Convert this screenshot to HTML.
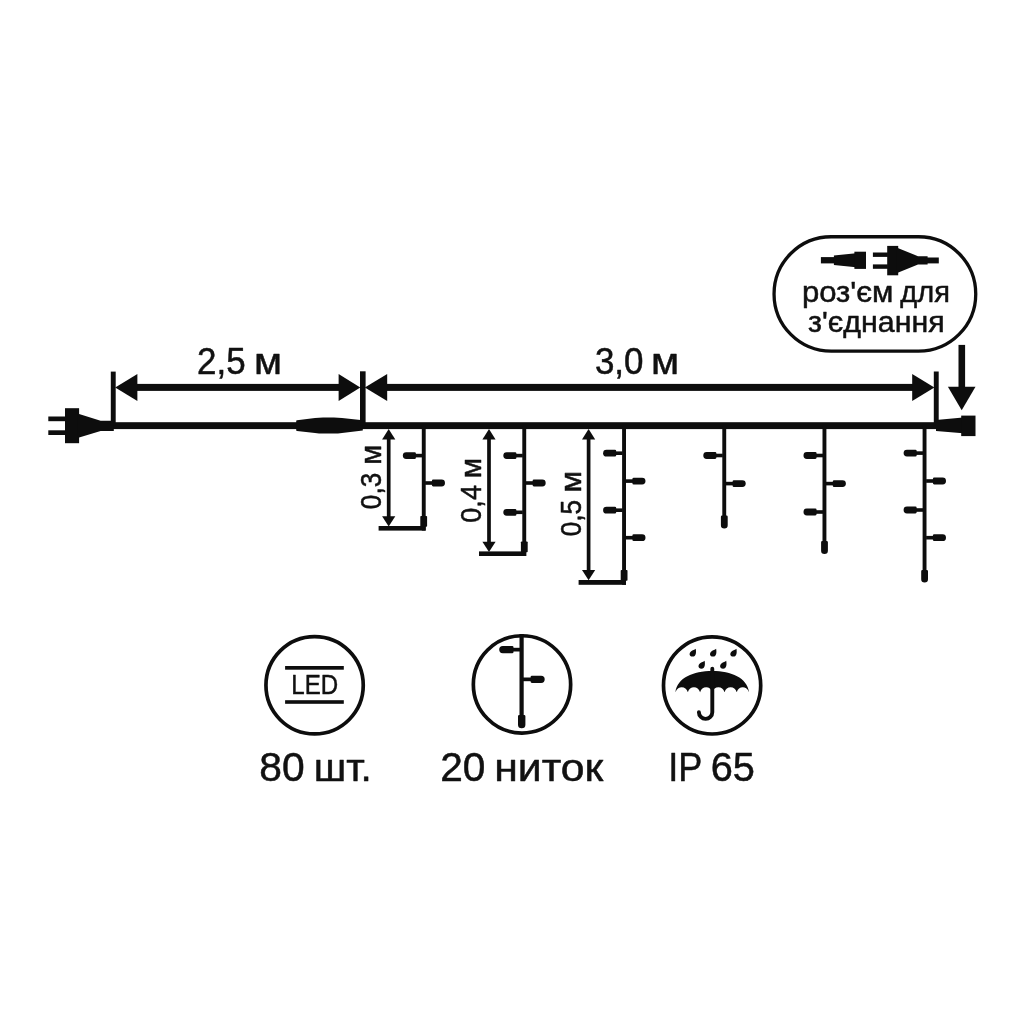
<!DOCTYPE html>
<html lang="uk">
<head>
<meta charset="utf-8">
<title>Схема гірлянди</title>
<style>
html,body{margin:0;padding:0;background:#fff;}
body{width:1024px;height:1024px;overflow:hidden;}
svg{display:block;}
text{font-family:"Liberation Sans",sans-serif;fill:#111;stroke:#111;stroke-width:0.5px;stroke-linejoin:round;}
svg{will-change:transform;}
</style>
</head>
<body>
<svg width="1024" height="1024" viewBox="0 0 1024 1024">
<rect width="1024" height="1024" fill="#ffffff"/>
<g fill="#0d0d0d">
<!-- main cable -->
<rect x="100" y="422.2" width="840" height="6.9"/>
<!-- plug left -->
<rect x="48.3" y="416.5" width="18" height="4.7"/>
<rect x="48.3" y="430.3" width="18" height="4.7"/>
<rect x="65" y="408.2" width="14.1" height="35"/>
<polygon points="77.5,413.4 100.6,420.7 113.8,420.7 113.8,431 100.6,431 77.5,437.9"/>
<!-- transformer bulge -->
<path d="M296.2 420.9 Q296.2 420.3 297 420.2 L315 417.9 Q319 417.4 323 417.4 L334 417.4 Q338 417.4 342 417.9 L362.8 420.3 L362.8 430.5 L342 433.1 Q338 433.6 334 433.6 L323 433.6 Q319 433.6 315 433.1 L297 430.9 Q296.2 430.8 296.2 430.2 Z"/>
<!-- ticks -->
<rect x="110.8" y="371.6" width="4.9" height="54"/>
<rect x="360" y="371.3" width="5.6" height="54"/>
<rect x="933.8" y="371.5" width="4.9" height="54"/>
<!-- dimension arrows -->
<rect x="130" y="383.9" width="215" height="7"/>
<polygon points="115.2,387.4 137.4,373.9 137.4,400.9"/>
<polygon points="360.3,387.4 338.6,373.9 338.6,400.9"/>
<rect x="380" y="383.9" width="540" height="7"/>
<polygon points="364.8,387.4 387.2,373.9 387.2,400.9"/>
<polygon points="934.4,387.4 912.2,373.9 912.2,400.9"/>
<!-- end connector -->
<polygon points="936,420 963,417.6 963,433.2 936,431"/>
<rect x="961.2" y="415.6" width="14.3" height="20.5"/>
<!-- down arrow -->
<rect x="958.5" y="344.9" width="6.6" height="44"/>
<polygon points="947.9,386.7 975.5,386.7 961.7,410.2"/>
<rect x="421.8" y="426" width="3.9" height="104.6"/><rect x="412.8" y="453.8" width="9.5" height="3.6"/><path d="M414.6 452.2 h-8.4 a3.4 3.4 0 0 0 0 6.8 h8.4 a1.3 1.3 0 0 0 1.3 -1.3 v-4.2 a1.3 1.3 0 0 0 -1.3 -1.3z"/><rect x="425.1" y="481.2" width="9.5" height="3.6"/><path d="M433.2 479.6 h8.4 a3.4 3.4 0 0 1 0 6.8 h-8.4 a1.3 1.3 0 0 1 -1.3 -1.3 v-4.2 a1.3 1.3 0 0 1 1.3 -1.3z"/>
<rect x="420.3" y="516" width="6.8" height="10.8" rx="0.8"/>
<rect x="378.6" y="526" width="47" height="4.6"/>
<rect x="522.3" y="426" width="3.9" height="130.0"/><rect x="513.3" y="453.8" width="9.5" height="3.6"/><path d="M515.1 452.2 h-8.4 a3.4 3.4 0 0 0 0 6.8 h8.4 a1.3 1.3 0 0 0 1.3 -1.3 v-4.2 a1.3 1.3 0 0 0 -1.3 -1.3z"/><rect x="525.8" y="481.2" width="9.5" height="3.6"/><path d="M533.9 479.6 h8.4 a3.4 3.4 0 0 1 0 6.8 h-8.4 a1.3 1.3 0 0 1 -1.3 -1.3 v-4.2 a1.3 1.3 0 0 1 1.3 -1.3z"/><rect x="513.3" y="510.5" width="9.5" height="3.6"/><path d="M515.1 508.9 h-8.4 a3.4 3.4 0 0 0 0 6.8 h8.4 a1.3 1.3 0 0 0 1.3 -1.3 v-4.2 a1.3 1.3 0 0 0 -1.3 -1.3z"/>
<rect x="520.9" y="541.4" width="6.8" height="10.8" rx="0.8"/>
<rect x="479" y="551.4" width="47.2" height="4.6"/>
<rect x="622.1" y="426" width="3.9" height="158.8"/><rect x="613.1" y="451.4" width="9.5" height="3.6"/><path d="M614.9 449.8 h-8.4 a3.4 3.4 0 0 0 0 6.8 h8.4 a1.3 1.3 0 0 0 1.3 -1.3 v-4.2 a1.3 1.3 0 0 0 -1.3 -1.3z"/><rect x="625.6" y="479.3" width="9.5" height="3.6"/><path d="M633.7 477.7 h8.4 a3.4 3.4 0 0 1 0 6.8 h-8.4 a1.3 1.3 0 0 1 -1.3 -1.3 v-4.2 a1.3 1.3 0 0 1 1.3 -1.3z"/><rect x="613.1" y="508.4" width="9.5" height="3.6"/><path d="M614.9 506.8 h-8.4 a3.4 3.4 0 0 0 0 6.8 h8.4 a1.3 1.3 0 0 0 1.3 -1.3 v-4.2 a1.3 1.3 0 0 0 -1.3 -1.3z"/><rect x="625.6" y="535.9" width="9.5" height="3.6"/><path d="M633.7 534.3 h8.4 a3.4 3.4 0 0 1 0 6.8 h-8.4 a1.3 1.3 0 0 1 -1.3 -1.3 v-4.2 a1.3 1.3 0 0 1 1.3 -1.3z"/>
<rect x="620.7" y="570" width="6.8" height="10.8" rx="0.8"/>
<rect x="578.6" y="580" width="47.4" height="4.8"/>
<rect x="722.3" y="426" width="3.9" height="92.0"/><rect x="713.3" y="453.7" width="9.5" height="3.6"/><path d="M715.1 452.1 h-8.4 a3.4 3.4 0 0 0 0 6.8 h8.4 a1.3 1.3 0 0 0 1.3 -1.3 v-4.2 a1.3 1.3 0 0 0 -1.3 -1.3z"/><rect x="725.8" y="481.8" width="9.5" height="3.6"/><path d="M733.9 480.2 h8.4 a3.4 3.4 0 0 1 0 6.8 h-8.4 a1.3 1.3 0 0 1 -1.3 -1.3 v-4.2 a1.3 1.3 0 0 1 1.3 -1.3z"/>
<path d="M722.1 515.5 h4.4 a1.2 1.2 0 0 1 1.2 1.2 v8.5 a3.4 3.3 0 0 1 -6.8 0 v-8.5 a1.2 1.2 0 0 1 1.2 -1.2z"/>
<rect x="822.5" y="426" width="3.9" height="117.0"/><rect x="813.5" y="453.7" width="9.5" height="3.6"/><path d="M815.3 452.1 h-8.4 a3.4 3.4 0 0 0 0 6.8 h8.4 a1.3 1.3 0 0 0 1.3 -1.3 v-4.2 a1.3 1.3 0 0 0 -1.3 -1.3z"/><rect x="826.0" y="481.8" width="9.5" height="3.6"/><path d="M834.1 480.2 h8.4 a3.4 3.4 0 0 1 0 6.8 h-8.4 a1.3 1.3 0 0 1 -1.3 -1.3 v-4.2 a1.3 1.3 0 0 1 1.3 -1.3z"/><rect x="813.5" y="510.2" width="9.5" height="3.6"/><path d="M815.3 508.6 h-8.4 a3.4 3.4 0 0 0 0 6.8 h8.4 a1.3 1.3 0 0 0 1.3 -1.3 v-4.2 a1.3 1.3 0 0 0 -1.3 -1.3z"/>
<path d="M822.3 541 h4.4 a1.2 1.2 0 0 1 1.2 1.2 v8.5 a3.4 3.3 0 0 1 -6.8 0 v-8.5 a1.2 1.2 0 0 1 1.2 -1.2z"/>
<rect x="922.6" y="426" width="3.9" height="146.0"/><rect x="913.6" y="451.3" width="9.5" height="3.6"/><path d="M915.4 449.7 h-8.4 a3.4 3.4 0 0 0 0 6.8 h8.4 a1.3 1.3 0 0 0 1.3 -1.3 v-4.2 a1.3 1.3 0 0 0 -1.3 -1.3z"/><rect x="926.1" y="479.2" width="9.5" height="3.6"/><path d="M934.2 477.6 h8.4 a3.4 3.4 0 0 1 0 6.8 h-8.4 a1.3 1.3 0 0 1 -1.3 -1.3 v-4.2 a1.3 1.3 0 0 1 1.3 -1.3z"/><rect x="913.6" y="508.2" width="9.5" height="3.6"/><path d="M915.4 506.6 h-8.4 a3.4 3.4 0 0 0 0 6.8 h8.4 a1.3 1.3 0 0 0 1.3 -1.3 v-4.2 a1.3 1.3 0 0 0 -1.3 -1.3z"/><rect x="926.1" y="535.9" width="9.5" height="3.6"/><path d="M934.2 534.3 h8.4 a3.4 3.4 0 0 1 0 6.8 h-8.4 a1.3 1.3 0 0 1 -1.3 -1.3 v-4.2 a1.3 1.3 0 0 1 1.3 -1.3z"/>
<path d="M922.4 570 h4.4 a1.2 1.2 0 0 1 1.2 1.2 v8 a3.4 3.3 0 0 1 -6.8 0 v-8 a1.2 1.2 0 0 1 1.2 -1.2z"/>
<rect x="386.85" y="437" width="3.7" height="81.5"/><polygon points="388.7,429 382.09999999999997,439.4 395.3,439.4"/><polygon points="388.7,526.5 382.09999999999997,516.3 395.3,516.3"/>
<rect x="487.15" y="437" width="3.7" height="107"/><polygon points="489.0,429 482.4,439.4 495.6,439.4"/><polygon points="489.0,552 482.4,541.8 495.6,541.8"/>
<rect x="586.75" y="437" width="3.7" height="135.29999999999995"/><polygon points="588.6,429 582.0,439.4 595.2,439.4"/><polygon points="588.6,580.3 582.0,570.0999999999999 595.2,570.0999999999999"/>
</g>
<!-- labels -->
<text y="374.3"><tspan x="197.10" font-size="37.3" textLength="48.62" lengthAdjust="spacingAndGlyphs">2,5</tspan> <tspan x="254.14" font-size="37.3" textLength="28.00" lengthAdjust="spacingAndGlyphs">м</tspan></text>
<text y="374.3"><tspan x="594.92" font-size="37.3" textLength="48.60" lengthAdjust="spacingAndGlyphs">3,0</tspan> <tspan x="651.03" font-size="37.3" textLength="28.12" lengthAdjust="spacingAndGlyphs">м</tspan></text>
<text transform="translate(380.7,0) rotate(-90)" stroke-width="0.15"><tspan x="-509.14" font-size="29.2" textLength="36.32" lengthAdjust="spacingAndGlyphs">0,3</tspan> <tspan x="-464.73" font-size="29.2" textLength="19.94" lengthAdjust="spacingAndGlyphs">м</tspan></text>
<text transform="translate(481.4,0) rotate(-90)" stroke-width="0.15"><tspan x="-522.68" font-size="29.2" textLength="37.59" lengthAdjust="spacingAndGlyphs">0,4</tspan> <tspan x="-478.36" font-size="29.2" textLength="20.31" lengthAdjust="spacingAndGlyphs">м</tspan></text>
<text transform="translate(580.9,0) rotate(-90)" stroke-width="0.15"><tspan x="-536.25" font-size="29.2" textLength="36.37" lengthAdjust="spacingAndGlyphs">0,5</tspan> <tspan x="-492.81" font-size="29.2" textLength="21.81" lengthAdjust="spacingAndGlyphs">м</tspan></text>
<!-- pill -->
<rect x="774.05" y="236.75" width="201.7" height="114.4" rx="57.2" ry="57.2" fill="none" stroke="#0d0d0d" stroke-width="3.3"/>
<g fill="#0d0d0d">
<rect x="820.9" y="257.1" width="14" height="6.3"/>
<polygon points="833.9,255.5 856,253.2 856,267.3 833.9,264.9"/>
<rect x="854.4" y="251.7" width="11.6" height="17.2"/>
<rect x="872.9" y="252.5" width="15" height="4.4"/>
<rect x="872.9" y="264.4" width="15" height="4.4"/>
<rect x="887.2" y="245.9" width="11" height="29.4"/>
<polygon points="896.5,247.4 918,256.2 927.6,256.2 927.6,264.5 918,264.5 896.5,273.3"/>
<rect x="927" y="257.5" width="11.8" height="5.9"/>
</g>
<text y="301.7"><tspan x="801.93" font-size="29.4" textLength="91.54" lengthAdjust="spacingAndGlyphs">роз'єм</tspan> <tspan x="900.36" font-size="29.4" textLength="49.61" lengthAdjust="spacingAndGlyphs">для</tspan></text>
<text y="331.8"><tspan x="808.12" font-size="29.4" textLength="136.64" lengthAdjust="spacingAndGlyphs">з'єднання</tspan></text>
<!-- icons -->
<g fill="none" stroke="#0d0d0d" stroke-width="3.7">
<circle cx="314.6" cy="685.3" r="48.65"/>
<circle cx="522" cy="684.4" r="48.65"/>
<circle cx="712.1" cy="685.4" r="48.6"/>
</g>
<g fill="#0d0d0d">
<rect x="285.1" y="666.0" width="58.7" height="3.7"/>
<rect x="285.1" y="700.2" width="58.7" height="3.6"/>
</g>
<text y="694.4" stroke-width="0"><tspan x="291.27" font-size="28.2" textLength="46.89" lengthAdjust="spacingAndGlyphs">LED</tspan></text>
<g fill="#0d0d0d">
<rect x="519.5" y="634" width="4.2" height="84"/>
<path d="M519.2 715 h4.9 a1.3 1.3 0 0 1 1.3 1.3 v8.4 a3.7 3.5 0 0 1 -7.4 0 v-8.4 a1.3 1.3 0 0 1 1.2 -1.3z"/>
<rect x="510" y="647.8" width="10" height="3.7"/>
<path d="M512.2 646 h-9.4 a3.6 3.6 0 0 0 0 7.2 h9.4 a1.3 1.3 0 0 0 1.3 -1.3 v-4.6 a1.3 1.3 0 0 0 -1.3 -1.3z"/>
<rect x="523" y="677.5" width="10" height="3.7"/>
<path d="M531.9 675.7 h9.2 a3.6 3.6 0 0 1 0 7.2 h-9.2 a1.3 1.3 0 0 1 -1.3 -1.3 v-4.6 a1.3 1.3 0 0 1 1.3 -1.3z"/>
</g>
<!-- umbrella -->
<g fill="#0d0d0d">
<path d="M675.4 692.2 C677.6 677.8 693 671.1 712.3 671.1 C731.5 671.1 746.9 677.8 749.1 692.2 C747.5 688.6 745 687.3 742.9 687.3 C740 687.3 737.6 689.2 736.8 692.2 C735.6 689 733.5 687.3 730.7 687.3 C727.8 687.3 725.4 689.2 724.6 692.2 C723.4 689 721.3 687.3 718.4 687.3 C715.6 687.3 713.2 689.2 712.3 692.2 C711.2 689 709 687.3 706.2 687.3 C703.3 687.3 701 689.2 700.1 692.2 C698.9 689 696.8 687.3 694 687.3 C691.1 687.3 688.7 689.2 687.9 692.2 C686.7 689 684.6 687.3 681.7 687.3 C679.4 687.3 677 688.6 675.4 692.2 Z"/>
</g>
<path d="M712.3 668.7 L712.3 712.2 A6.7 6.7 0 0 1 698.9 712.2" fill="none" stroke="#0d0d0d" stroke-width="3.9" stroke-linecap="round"/>
<g fill="#0d0d0d" id="drops">
<path id="dr" d="M2.9 -4.9 C3.6 -1.5 3.4 3 -0.2 3 C-4 3 -3.8 -0.8 -1.6 -2.4 C-0.2 -3.4 1.8 -4 2.9 -4.9 Z" transform="translate(692.8,653.6)"/>
<path d="M2.9 -4.9 C3.6 -1.5 3.4 3 -0.2 3 C-4 3 -3.8 -0.8 -1.6 -2.4 C-0.2 -3.4 1.8 -4 2.9 -4.9 Z" transform="translate(713.2,653.6)"/>
<path d="M2.9 -4.9 C3.6 -1.5 3.4 3 -0.2 3 C-4 3 -3.8 -0.8 -1.6 -2.4 C-0.2 -3.4 1.8 -4 2.9 -4.9 Z" transform="translate(733.5,653.6)"/>
<path d="M2.9 -4.9 C3.6 -1.5 3.4 3 -0.2 3 C-4 3 -3.8 -0.8 -1.6 -2.4 C-0.2 -3.4 1.8 -4 2.9 -4.9 Z" transform="translate(701.7,665.7)"/>
<path d="M2.9 -4.9 C3.6 -1.5 3.4 3 -0.2 3 C-4 3 -3.8 -0.8 -1.6 -2.4 C-0.2 -3.4 1.8 -4 2.9 -4.9 Z" transform="translate(723.3,665.7)"/>
</g>
<!-- captions -->
<text y="781.0"><tspan x="259.25" font-size="40.6" textLength="45.36" lengthAdjust="spacingAndGlyphs">80</tspan> <tspan x="313.85" font-size="39.6" textLength="57.84" lengthAdjust="spacingAndGlyphs">шт.</tspan></text>
<text y="780.9"><tspan x="440.22" font-size="40.6" textLength="45.23" lengthAdjust="spacingAndGlyphs">20</tspan> <tspan x="494.20" font-size="39.6" textLength="109.10" lengthAdjust="spacingAndGlyphs">ниток</tspan></text>
<text y="780.9"><tspan x="668.18" font-size="41.0" textLength="34.07" lengthAdjust="spacingAndGlyphs">IP</tspan> <tspan x="710.72" font-size="40.6" textLength="44.21" lengthAdjust="spacingAndGlyphs">65</tspan></text>
</svg>
</body>
</html>
